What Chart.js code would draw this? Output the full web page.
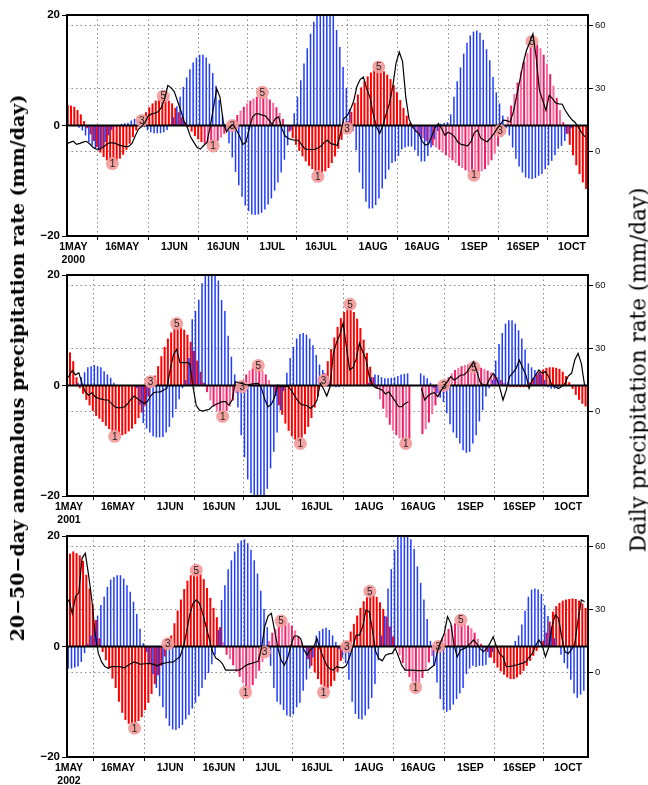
<!DOCTYPE html>
<html>
<head>
<meta charset="utf-8">
<script src="https://cdn.jsdelivr.net/npm/chart.js@4/dist/chart.umd.min.js"></script>
<style>
  body { margin: 0; background: #fff; }
  #page { position: relative; width: 648px; height: 785px; overflow: hidden; background: #fff; }
  #page canvas { position: absolute; left: 0; top: 0; }
  .ytitle { position: absolute; white-space: nowrap; font-family: 'DejaVu Serif', serif; color: #000;
            transform: translate(-50%, -50%) rotate(-90deg); }
</style>
</head>
<body>
<div id="page">
  <canvas id="p2000" width="648" height="785"></canvas>
  <canvas id="p2001" width="648" height="785"></canvas>
  <canvas id="p2002" width="648" height="785"></canvas>
  <div class="ytitle" style="left:17px;top:368px;font-size:19px;font-weight:bold;">20−50−day anomalous precipitation rate (mm/day)</div>
  <div class="ytitle" style="left:638px;top:370px;font-size:21.5px;">Daily precipitation rate (mm/day)</div>
</div>
<script>
// day 0 = 1 May of each year
const tickDays = [0, 15, 31, 46, 61, 76, 92, 107, 123, 138, 153];
const tickNames = ['1MAY', '16MAY', '1JUN', '16JUN', '1JUL', '16JUL', '1AUG', '16AUG', '1SEP', '16SEP', '1OCT'];

// ---- 2000 (first value is day -2) ----
const red2000 = [
  3.7, 3.6, 3.4, 2.8, 2.0, 0.8, -0.5, -1.6, -2.8, -3.9,
  -4.9, -5.7, -6.3, -6.6, -6.7, -6.5, -6.0, -5.3, -4.4, -3.3,
  -2.1, -0.9, 0.3, 1.4, 2.4, 3.3, 4.0, 4.5, 4.8, 4.9,
  4.8, 4.5, 4.0, 3.2, 2.4, 1.5, 0.6, -0.3, -1.1, -1.9,
  -2.5, -3.0, -3.3, -3.4, -3.4, -3.2, -2.8, -2.2, -1.5, -0.7,
  0.2, 1.0, 1.9, 2.7, 3.4, 4.0, 4.5, 4.9, 5.2, 5.3,
  5.3, 5.1, 4.7, 4.1, 3.3, 2.3, 1.2, 0.1, -1.1, -2.3,
  -3.5, -4.6, -5.6, -6.5, -7.3, -7.9, -8.4, -8.6, -8.6, -8.3,
  -7.7, -6.8, -5.6, -4.2, -2.6, -0.9, 0.8, 2.5, 4.1, 5.6,
  6.9, 8.0, 8.9, 9.6, 10.0, 10.2, 10.1, 9.8, 9.2, 8.4,
  7.3, 6.0, 4.6, 3.2, 1.8, 0.5, -0.4, -1.2, -1.8, -2.3,
  -2.8, -3.2, -3.6, -4.0, -4.4, -4.9, -5.4, -5.9, -6.3, -6.8,
  -7.3, -7.7, -8.1, -8.4, -8.6, -8.7, -8.6, -8.3, -7.9, -7.2,
  -6.3, -5.1, -3.7, -2.1, -0.3, 1.6, 3.6, 5.7, 7.8, 9.8,
  11.6, 13.1, 14.2, 14.8, 14.7, 14.0, 12.8, 11.2, 9.3, 7.2,
  5.0, 2.8, 0.6, -1.5, -3.5, -5.4, -7.2, -8.8, -10.3, -11.5
];
const blue2000 = [
  0, 0, 0, 0, -0.4, -0.9, -1.8, -3.0, -3.6, -4.2,
  -4.5, -4.0, -3.0, -1.8, -0.8, -0.2, 0.1, 0.3, 0.4, 0.5,
  0.9, 1.2, 1.0, 0.4, -0.3, -0.9, -1.2, -1.4, -1.4, -1.4,
  -1.2, -0.8, 0.2, 1.5, 3.5, 5.2, 7.0, 8.7, 10.2, 11.4,
  12.3, 12.8, 12.8, 12.3, 11.2, 9.5, 7.2, 4.6, 1.8, -0.8,
  -3.2, -5.8, -8.4, -10.8, -12.9, -14.5, -15.5, -16.1, -16.2, -16.1,
  -15.8, -15.2, -14.3, -13.2, -11.8, -10.3, -8.5, -6.2, -3.6, -0.8,
  2.2, 5.2, 8.2, 11.2, 14.0, 16.6, 18.8, 20.5, 21.8, 22.4,
  22.3, 21.5, 19.8, 17.3, 14.2, 10.6, 6.8, 3.0, -1.0, -4.5,
  -8.5, -11.5, -13.8, -15.0, -15.0, -14.4, -13.2, -11.4, -9.7, -8.0,
  -6.8, -6.5, -5.5, -4.3, -4.0, -3.8, -3.8, -4.5, -5.5, -6.5,
  -6.5, -5.5, -4.0, -2.5, -1.0, 0.3, 0.5, 0.6, 2.0, 5.2,
  8.0, 10.5, 13.0, 15.0, 16.3, 17.0, 17.2, 16.8, 15.5, 13.8,
  11.8, 8.8, 6.0, 4.0, 1.8, -0.5, -1.8, -4.0, -6.0, -7.4,
  -8.5, -9.4, -9.6, -9.7, -9.5, -9.1, -8.8, -7.9, -7.2, -6.4,
  -5.4, -4.2, -3.7, -2.8, -1.5, -0.5, 0, 0, 0, 0
];
const rain2000 = [
  3.9, 4.5, 5.0, 3.5, 4.0, 4.6, 5.0, 3.8, 2.2, 1.3,
  1.3, 2.0, 3.2, 4.3, 4.2, 4.0, 3.2, 2.8, 2.5, 2.6,
  4.0, 7.5, 10.8, 12.0, 14.0, 17.0, 18.0, 18.4, 19.0, 21.0,
  25.0, 31.5, 30.5, 28.5, 24.0, 19.5, 14.5, 11.5, 7.0, 4.5,
  2.0, 1.3, 3.0, 4.5, 12.0, 21.0, 30.0, 26.0, 14.2, 9.5,
  11.8, 13.0, 10.5, 7.5, 3.5, 4.7, 11.0, 16.6, 18.0, 18.0,
  17.4, 17.0, 15.0, 13.0, 15.8, 16.6, 11.0, 7.5, 6.3, 5.8,
  5.5, 5.5, 3.5, 1.5, 1.1, 1.1, 1.1, 1.8, 2.8, 4.5,
  5.5, 3.9, 3.5, 3.0, 9.0, 15.8, 17.2, 20.0, 24.0, 31.0,
  34.3, 35.5, 30.0, 26.0, 18.0, 12.0, 8.7, 12.6, 18.0, 23.0,
  31.0, 42.0, 47.4, 43.0, 26.0, 15.5, 12.0, 10.0, 8.7, 5.0,
  3.2, 3.7, 7.5, 11.5, 13.4, 11.0, 7.9, 9.3, 8.5, 7.1,
  4.5, 3.5, 3.2, 2.8, 4.8, 9.0, 10.3, 6.5, 5.5, 4.8,
  6.5, 8.5, 11.0, 13.0, 15.0, 14.8, 14.2, 19.0, 26.5, 34.0,
  42.0, 48.0, 52.0, 56.0, 45.0, 29.2, 24.5, 19.7, 26.9, 25.3,
  23.2, 22.8, 22.6, 19.5, 17.2, 15.2, 13.8, 11.5, 9.0, 7.1
];
const pink2000 = [[40, 65], [104, 150]];
const marks2000 = [[12, -6.9, '1'], [21, 0.9, '3'], [27.6, 5.3, '5'], [42.9, -3.7, '1'], [48.8, 0, '3'], [58, 6, '5'],
  [75, -9.2, '1'], [84, -0.5, '3'], [93.7, 10.6, '5'], [122.9, -9, '1'], [130.9, -0.9, '3'], [140.7, 15.2, '5']];

// ---- 2001 (first value is day -1) ----
const red2001 = [
  6.5, 6.0, 4.4, 1.5, -0.5, -1.5, -2.6, -3.6, -4.6, -5.5,
  -6.0, -6.6, -7.3, -7.9, -8.5, -8.8, -9.0, -9.0, -8.8, -8.3,
  -7.8, -7.0, -5.9, -4.9, -3.6, -2.0, -0.2, 1.8, 3.5, 5.3,
  7.0, 8.5, 9.6, 10.4, 10.7, 10.6, 10.1, 9.2, 7.9, 6.3,
  4.5, 2.5, 0.5, -1.2, -2.7, -3.8, -4.6, -5.0, -5.0, -4.6,
  -3.8, -2.7, -1.4, -0.1, 1.0, 2.0, 2.7, 3.1, 3.2, 3.1,
  2.7, 2.0, 1.0, -0.3, -1.9, -3.6, -5.3, -6.9, -8.2, -9.2,
  -9.8, -9.9, -9.6, -8.8, -7.5, -5.9, -4.0, -2.0, 0.0, 2.2,
  4.4, 6.6, 8.7, 10.6, 12.2, 13.3, 13.9, 13.9, 13.3, 12.1,
  10.4, 8.3, 5.9, 3.4, 1.5, -0.5, -2.5, -4.2, -5.8, -7.1,
  -8.2, -9.0, -9.6, -9.9, -9.9, -9.7, null, null, null, -8.8,
  -7.9, -6.7, -5.2, -3.6, -2.0, -0.6, 0.6, 1.5, 2.2, 2.8,
  3.2, 3.5, 3.7, 3.8, 3.8, 3.7, 3.4, 3.2, 3.0, 2.7,
  2.4, 2.0, 1.5, 1.0, 0.5, 0.1, -0.3, -0.3, -0.3, -0.3,
  -0.3, -0.3, 0.6, 1.3, 2.0, 2.5, 2.9, 3.2, 3.3, 3.3,
  3.2, 3.0, 2.5, 1.7, 0.6, -0.6, -1.7, -2.6, -3.3, -3.8
];
const blue2001 = [
  0, 0, 0, 0, 0.5, 1.5, 2.4, 3.3, 3.5, 3.7,
  3.5, 3.3, 2.6, 2.0, 1.4, 0.5, 0, 0, 0, 0,
  0, 0, -0.5, -3.5, -6.8, -7.8, -8.5, -9.2, -9.4, -9.4,
  -9.3, -8.5, -7.5, -5.8, -4.3, -2.5, -0.5, 1.0, 5.0, 12.0,
  13.5, 15.5, 18.5, 20.5, 21.5, 22.0, 21.5, 19.0, 15.5, 13.5,
  9.0, 5.2, 2.0, -4.0, -9.0, -13.0, -17.0, -19.5, -21.0, -21.5,
  -21.5, -20.5, -18.7, -15.0, -12.0, -8.5, -4.5, -1.0, 2.3, 5.0,
  7.0, 8.5, 9.3, 9.5, 9.2, 8.5, 7.3, 5.5, 3.8, 2.8,
  2.0, 1.0, 0, -0.3, -0.3, 0, 0, 0, 0, 0,
  0, 0, 0, 0.5, 1.5, 2.0, 1.9, 1.5, 1.3, 1.3,
  1.4, 1.5, 1.7, 2.0, 2.1, 2.2, null, null, null, 2.2,
  1.8, 1.3, 0.5, -0.5, -1.4, -2.2, -3.0, -5.0, -7.0, -8.5,
  -9.5, -10.5, -11.7, -12.2, -12.0, -10.5, -9.0, -6.5, -4.5, -2.0,
  -0.5, 1.0, 4.5, 7.5, 9.5, 11.2, 11.8, 11.8, 11.2, 10.0,
  8.5, 6.5, 4.0, 3.3, 2.8, 2.4, 2.0, 1.0, -0.3, -0.6,
  -0.6, -0.4, 0, 0, 0, 0, 0, 0, 0, 0
];
const rain2001 = [
  15.0, 17.0, 19.6, 17.5, 18.6, 13.5, 9.5, 7.9, 9.0, 7.2,
  6.4, 6.0, 5.6, 5.6, 4.0, 2.4, 1.9, 2.0, 2.4, 3.8,
  6.0, 7.5, 6.2, 5.0, 4.0, 4.8, 7.5, 9.1, 9.4, 9.5,
  10.4, 11.1, 19.9, 27.0, 29.7, 23.4, 23.4, 23.4, 23.0, 12.0,
  3.0, 0.8, 0.3, 0.8, 1.2, 2.7, 3.5, 4.2, 4.8, 4.8,
  3.2, 5.6, 14.3, 13.8, 13.5, 12.9, 12.8, 13.2, 13.4, 13.5,
  11.1, 6.0, 2.4, 3.5, 7.0, 12.7, 12.0, 11.9, 12.2, 10.5,
  8.0, 5.5, 3.7, 3.2, 2.9, 1.6, 3.0, 5.6, 13.5, 11.0,
  7.5, 11.9, 27.8, 33.0, 36.6, 42.1, 31.0, 19.9, 21.0, 25.0,
  32.6, 28.5, 25.0, 16.7, 12.7, 11.5, 11.0, 10.3, 8.5, 9.5,
  7.2, 5.0, 2.4, 2.4, 4.0, 4.8, null, null, null, 11.1,
  5.6, 7.5, 8.7, 9.1, 7.2, 10.0, 12.2, 14.5, 16.7, 15.1,
  16.0, 17.5, 17.5, 19.0, 21.5, 23.8, 19.1, 14.0, 12.7, 12.7,
  15.9, 18.3, 15.9, 11.5, 5.6, 10.3, 16.7, 18.5, 20.5, 24.6,
  21.0, 17.5, 11.1, 15.1, 17.5, 19.9, 18.3, 19.1, 16.7, 12.5,
  11.9, 11.1, 12.0, 13.5, 17.0, 18.3, 24.6, 27.8, 23.0, 12.7
];
const pink2001 = [[42, 62], [94, 134]];
const marks2001 = [[14, -9.2, '1'], [25, 0.7, '3'], [33, 11.2, '5'], [47.1, -5.6, '1'], [53, -0.2, '3'], [58, 3.6, '5'],
  [70.9, -10.5, '1'], [78, 0.9, '3'], [86.1, 14.7, '5'], [103.2, -10.5, '1'], [114.9, 0, '3'], [124.1, 3.3, '5']];

// ---- 2002 (first value is day -1) ----
const red2002 = [
  16.0, 16.8, 17.2, 16.9, 16.5, 15.5, 13.0, 10.5, 7.5, 4.8,
  1.5, -1.0, -2.5, -4.0, -5.8, -7.5, -10.0, -12.0, -13.3, -14.0,
  -14.1, -14.0, -13.5, -12.8, -11.5, -10.2, -8.6, -6.8, -5.2, -3.5,
  -1.8, -0.2, 2.0, 4.2, 6.5, 8.5, 10.4, 11.9, 12.9, 13.3,
  13.4, 13.1, 12.2, 10.6, 8.8, 7.0, 5.3, 3.5, 0.8, -1.5,
  -2.3, -3.4, -4.6, -5.5, -6.6, -7.4, -7.7, -7.0, -5.8, -4.4,
  -2.8, -0.8, 1.0, 2.5, 3.2, 3.8, 4.2, 4.4, 4.3, 3.8,
  2.9, 1.9, 0.9, -0.3, -2.3, -3.5, -4.7, -5.9, -6.9, -7.4,
  -7.6, -7.2, -6.2, -4.6, -2.6, -0.6, 1.0, 2.7, 4.1, 5.6,
  7.0, 8.2, 8.9, 9.2, 9.3, 9.0, 8.0, 6.8, 5.4, 3.6,
  1.8, -0.3, -1.6, -3.0, -4.3, -5.5, -6.3, -6.8, -6.6, -5.7,
  -4.4, -2.9, -1.7, -0.6, 0.5, 1.5, 2.5, 3.2, 3.8, 4.2,
  4.4, 4.4, 4.2, 3.8, 3.3, 2.5, 1.4, 0.5, -0.3, -1.0,
  -2.0, -3.0, -3.8, -4.5, -5.1, -5.6, -5.9, -5.9, -5.6, -5.1,
  -4.4, -3.5, -2.6, -1.7, -0.8, 0, 1.0, 2.5, 4.5, 6.3,
  7.3, 7.9, 8.3, 8.5, 8.6, 8.7, 8.6, 8.3, 7.8, 7.0
];
const blue2002 = [
  -4.0, -4.0, -4.0, -3.8, -3.6, -2.8, -1.2, 0.5, 2.0, 3.8,
  5.6, 7.5, 9.0, 10.8, 12.1, 12.6, 12.9, 12.9, 12.3, 11.1,
  9.9, 8.1, 5.9, 3.2, 0.6, -1.0, -3.0, -5.0, -7.5, -9.0,
  -11.0, -13.0, -14.4, -15.0, -15.1, -14.8, -14.2, -13.2, -12.4, -11.2,
  -10.2, -9.0, -7.5, -6.0, -4.8, -3.2, -1.5, 3.0, 8.4, 11.1,
  14.0, 15.6, 17.2, 18.7, 19.2, 19.4, 18.7, 17.5, 15.6, 13.2,
  10.1, 6.8, 3.5, -3.5, -7.5, -10.0, -10.5, -11.5, -12.5, -12.7,
  -12.3, -11.0, -10.2, -8.0, -6.0, -4.0, -2.0, 2.0, 2.8, 3.2,
  3.4, 3.0, 2.0, 0.8, -0.5, -2.0, -3.0, -6.0, -10.0, -12.2,
  -13.1, -13.2, -12.5, -11.3, -9.3, -6.8, -2.5, 2.0, 5.5, 10.5,
  14.0, 17.5, 20.5, 21.5, 21.5, 20.8, 19.4, 17.7, 14.5, 11.5,
  8.5, 5.0, 1.0, -3.5, -6.5, -9.5, -11.5, -11.8, -11.5, -10.5,
  -9.5, -8.5, -7.5, -5.0, -4.0, -3.5, -3.7, -3.5, -3.5, -3.3,
  -2.0, -1.0, 0, 0, 0, 0, 0, 0, 1.0, 2.0,
  4.0, 6.5, 9.0, 10.3, 10.5, 10.3, 9.5, 7.5, 5.5, 3.5,
  1.5, 0, -1.5, -3.0, -4.0, -6.0, -8.5, -9.3, -8.7, -8.0
];
const rain2002 = [
  33.0, 34.6, 28.0, 36.2, 38.0, 54.4, 56.8, 46.5, 34.6, 18.7,
  9.2, 5.2, 3.0, 2.1, 2.9, 2.9, 2.9, 2.8, 2.4, 3.5,
  4.4, 5.2, 4.6, 4.0, 4.3, 4.4, 4.4, 4.0, 3.3, 4.1,
  4.5, 4.9, 5.1, 5.2, 6.5, 7.6, 12.0, 19.0, 27.5, 33.0,
  34.6, 33.0, 28.0, 22.0, 16.0, 10.0, 7.0, 6.0, 4.4, 1.3,
  1.3, 1.3, 1.3, 1.3, 2.0, 3.3, 4.1, 4.5, 5.0, 5.5,
  12.0, 22.0, 27.0, 28.3, 20.3, 12.0, 6.0, 3.7, 7.0, 13.0,
  17.5, 17.5, 16.3, 10.8, 8.4, 11.0, 12.4, 16.3, 11.0, 7.0,
  3.5, 1.8, 1.3, 2.9, 2.6, 2.4, 3.5, 7.5, 12.4, 17.9,
  17.9, 22.0, 29.8, 29.0, 20.3, 10.0, 6.8, 5.7, 8.4, 9.0,
  9.2, 11.6, 7.6, 3.5, 1.3, 1.3, 1.3, 1.2, 1.0, 1.0,
  1.2, 1.3, 2.5, 3.7, 10.8, 15.0, 18.7, 26.7, 23.5, 13.2,
  7.6, 10.8, 11.5, 12.4, 14.0, 15.6, 13.7, 11.5, 10.0, 11.6,
  14.0, 17.1, 12.4, 9.0, 7.6, 2.9, 3.0, 3.3, 3.7, 4.1,
  4.6, 5.2, 7.5, 9.2, 13.0, 15.6, 13.2, 7.6, 12.0, 22.0,
  27.5, 25.9, 17.1, 10.0, 9.2, 11.0, 14.0, 25.1, 34.6, 33.8
];
const pink2002 = [[47, 72], [100, 127]];
const marks2002 = [[20.1, -14.8, '1'], [30.3, 0.5, '3'], [39, 13.8, '5'], [54.1, -8.3, '1'], [59.9, -1, '3'], [65, 4.6, '5'],
  [78, -8.3, '1'], [85.1, 0, '3'], [92.2, 10, '5'], [106.2, -7.4, '1'], [113.2, 0, '3'], [120.1, 4.8, '5']];

const RED = '#ff0000', PINK_A = '#ee1f66', PINK_B = '#ff6b9b', BLUE = '#1f3cff';
const tickFont = { family: 'Liberation Sans', size: 10.5, weight: 'bold' };

// zero line after the bars, numbers on the phase circles, frame on top
const decor = {
  id: 'decor',
  afterDatasetDraw(chart, args) {
    if (args.index !== 2) return;
    const { ctx, chartArea: a } = chart;
    const y0 = chart.scales.y.getPixelForValue(0);
    ctx.save();
    ctx.strokeStyle = '#000';
    ctx.lineWidth = 2;
    ctx.beginPath();
    ctx.moveTo(a.left, y0);
    ctx.lineTo(a.right, y0);
    ctx.stroke();
    ctx.restore();
  },
  afterDatasetsDraw(chart) {
    const { ctx, chartArea: a } = chart;
    const meta = chart.getDatasetMeta(1);
    const pts = chart.data.datasets[1].data;
    ctx.save();
    ctx.font = '10px "Liberation Sans"';
    ctx.fillStyle = '#222';
    ctx.textAlign = 'center';
    ctx.textBaseline = 'middle';
    meta.data.forEach((el, i) => ctx.fillText(pts[i].label, el.x, el.y + 0.5));
    ctx.lineWidth = 2;
    ctx.strokeStyle = '#000';
    ctx.strokeRect(a.left, a.top, a.right - a.left, a.bottom - a.top);
    ctx.restore();
  }
};

function toPoints(start, values) {
  return values.map((v, i) => ({ x: start + i, y: v }));
}

function makePanel(id, p) {
  const inPink = d => p.pink.some(r => d >= r[0] && d <= r[1]);
  new Chart(document.getElementById(id), {
    type: 'bar',
    data: {
      datasets: [
        {
          type: 'line', data: toPoints(p.start, p.rain), yAxisID: 'y2',
          borderColor: '#000', borderWidth: 1.2, pointRadius: 0, tension: 0
        },
        {
          type: 'line', data: p.marks.map(m => ({ x: m[0], y: m[1], label: m[2] })), yAxisID: 'y',
          showLine: false, pointRadius: 6.5, pointBackgroundColor: 'rgba(243,155,155,0.92)', pointBorderWidth: 0
        },
        {
          data: toPoints(p.start, p.blue), yAxisID: 'y', backgroundColor: BLUE,
          barThickness: 1.5, borderWidth: 0, inflateAmount: 0, clip: 0
        },
        {
          data: toPoints(p.start, p.red), yAxisID: 'y', borderWidth: 0, inflateAmount: 0, clip: 0,
          barThickness: 2,
          backgroundColor: ctx => {
            const d = p.start + ctx.dataIndex;
            return inPink(d) ? (d % 2 ? PINK_B : PINK_A) : RED;
          }
        }
      ]
    },
    plugins: [decor],
    options: {
      responsive: false,
      animation: false,
      events: [],
      layout: { padding: { top: p.top, left: 0, right: 0, bottom: 0 }, autoPadding: false },
      plugins: { legend: { display: false }, tooltip: { enabled: false } },
      scales: {
        x: {
          type: 'linear', min: p.xMin, max: p.xMax, offset: false,
          afterBuildTicks: s => { s.ticks = tickDays.map(v => ({ value: v })); },
          afterFit: s => { s.height = 785 - p.bottom; },
          ticks: {
            autoSkip: false, maxRotation: 0, padding: 1, color: '#000', font: tickFont,
            callback: v => {
              const i = tickDays.indexOf(v);
              return i === 0 ? [tickNames[i], String(p.year)] : tickNames[i];
            }
          },
          grid: { color: '#8a8a8a', lineWidth: 1, tickLength: 4, tickColor: '#000', tickWidth: 1 },
          border: { display: false, dash: [1.5, 3] }
        },
        y: {
          position: 'left', min: -20, max: 20,
          afterBuildTicks: s => { s.ticks = [-20, 0, 20].map(v => ({ value: v })); },
          afterFit: s => { s.width = 67; },
          ticks: {
            padding: 2, color: '#000', font: { family: 'Liberation Sans', size: 11.5, weight: 'bold' },
            callback: v => v < 0 ? '\u2212' + Math.abs(v) : String(v)
          },
          grid: { drawOnChartArea: false, tickLength: 5, tickColor: '#000', tickWidth: 1 },
          border: { display: false }
        },
        y2: {
          position: 'right', min: -40, max: 65,
          afterBuildTicks: s => { s.ticks = [0, 30, 60].map(v => ({ value: v })); },
          afterFit: s => { s.width = 60; },
          ticks: { padding: 2, color: '#111', font: { family: 'Liberation Sans', size: 9.5 } },
          grid: { color: '#8a8a8a', lineWidth: 1, tickLength: 5, tickColor: '#000', tickWidth: 1 },
          border: { display: false, dash: [1.5, 3] }
        }
      }
    }
  });
}

makePanel('p2000', { year: 2000, top: 15, bottom: 236, xMin: -1.93, xMax: 157.9, start: -2,
  red: red2000, blue: blue2000, rain: rain2000, pink: pink2000, marks: marks2000 });
makePanel('p2001', { year: 2001, top: 275, bottom: 496, xMin: -0.61, xMax: 159.05, start: -1,
  red: red2001, blue: blue2001, rain: rain2001, pink: pink2001, marks: marks2001 });
makePanel('p2002', { year: 2002, top: 536, bottom: 757, xMin: -0.61, xMax: 159.05, start: -1,
  red: red2002, blue: blue2002, rain: rain2002, pink: pink2002, marks: marks2002 });
</script>
</body>
</html>
